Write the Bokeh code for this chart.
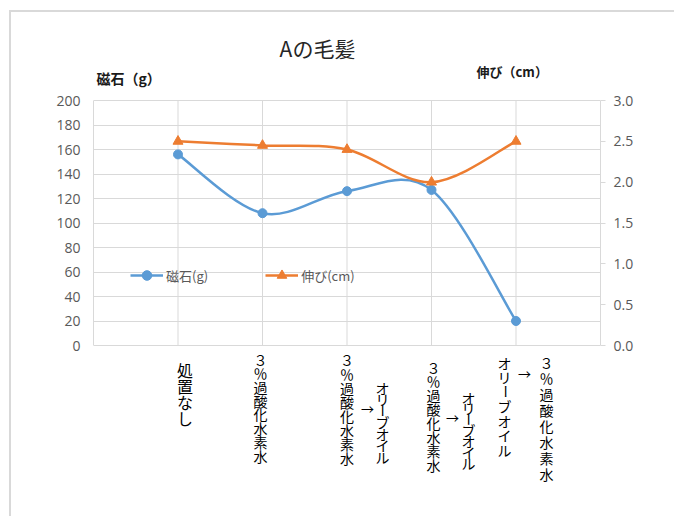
import math
from bokeh.plotting import figure
from bokeh.models import (ColumnDataSource, Range1d, LinearAxis, FixedTicker, Legend,
                          LegendItem, LabelSet, Label, NumeralTickFormatter)
from bokeh.core.properties import value, field
from bokeh.embed import file_html
from bokeh.resources import INLINE

# ---------------- data ----------------
categories = ["処置なし",
              "３％過酸化水素水",
              "３％過酸化水素水→オリーブオイル",
              "３％過酸化水素水→オリーブオイル",
              "オリーブオイル→３％過酸化水素水"]
x_pos = [1, 2, 3, 4, 5]
magnet_g = [156, 108, 126, 127, 20]
stretch_cm = [2.50, 2.45, 2.40, 2.00, 2.50]
left_ticks = [0, 20, 40, 60, 80, 100, 120, 140, 160, 180, 200]
right_ticks = [0.0, 0.5, 1.0, 1.5, 2.0, 2.5, 3.0]
left_bounds = (0, 200)
right_bounds = (0.0, 3.0)
series_names = ["磁石(g)", "伸び(cm)"]
title_text = "Aの毛髪"
left_title = "磁石（g）"
right_title = "伸び（cm）"

# ---------------- style / layout ----------------
BLUE = "#5b9bd5"
ORANGE = "#ed7d31"
GRID = "#d9d9d9"
TICK = "#595959"
JP = "Noto Sans CJK JP"
NUM = "Open Sans"

OX, OY = 11, 12           # canvas origin on the page (after margin + border)
W, H = 665, 506           # canvas size
FL, FR = 93, 600          # plot area left/right (page px)
PT, PB = 100, 345         # plot area top/bottom (page px) for the 0..max values
FT, FBOT = OY, OY + H     # frame spans full canvas height
X0, X1 = 0, 6


def ext_range(lo, hi):
    per_px = (hi - lo) / (PB - PT)
    return Range1d(lo - (FBOT - PB) * per_px, hi + (PT - FT) * per_px)


def px_x(x):
    return FL + (x - X0) / (X1 - X0) * (FR - FL)


def sx(px):
    return px - FL


def sy(py):
    return FBOT - py


def smooth_segments(xs, ys):
    """Bezier segments of a Catmull-Rom style smoothed line through the data."""
    n = len(xs)
    pts = list(zip(xs, ys))

    def pt(i):
        return pts[max(0, min(n - 1, i))]

    d = dict(x0=[], y0=[], x1=[], y1=[], cx0=[], cy0=[], cx1=[], cy1=[])
    for i in range(n - 1):
        p0, p1, p2, p3 = pt(i - 1), pt(i), pt(i + 1), pt(i + 2)
        d["x0"].append(p1[0]); d["y0"].append(p1[1])
        d["x1"].append(p2[0]); d["y1"].append(p2[1])
        d["cx0"].append(p1[0] + (p2[0] - p0[0]) / 6)
        d["cy0"].append(p1[1] + (p2[1] - p0[1]) / 6)
        d["cx1"].append(p2[0] - (p3[0] - p1[0]) / 6)
        d["cy1"].append(p2[1] - (p3[1] - p1[1]) / 6)
    return d


p = figure(width=W, height=H, x_range=Range1d(X0, X1), y_range=ext_range(*left_bounds),
           output_backend="svg", toolbar_location=None, x_axis_location=None,
           min_border_left=FL - OX, min_border_right=OX + W - FR,
           min_border_top=0, min_border_bottom=0,
           margin=(OY - 2, 0, 0, OX - 2))
p.styles = {"border-left": "2px solid #d9d9d9", "border-top": "2px solid #d9d9d9"}
p.extra_y_ranges = {"right": ext_range(*right_bounds)}
p.outline_line_color = None
p.background_fill_color = "white"
p.border_fill_color = "white"
p.xgrid.grid_line_color = None

# left axis
ya = p.yaxis[0]
ya.ticker = FixedTicker(ticks=left_ticks)
ya.bounds = left_bounds
ya.axis_line_color = GRID
ya.major_tick_line_color = None
ya.minor_tick_line_color = None
ya.major_label_text_font = NUM
ya.major_label_text_font_size = "14px"
ya.major_label_text_color = TICK
ya.major_label_standoff = 7
p.ygrid.grid_line_color = GRID

# right axis
ra = LinearAxis(y_range_name="right", ticker=FixedTicker(ticks=right_ticks),
                formatter=NumeralTickFormatter(format="0.0"), bounds=right_bounds)
ra.axis_line_color = GRID
ra.major_tick_line_color = GRID
ra.major_tick_in = 0
ra.major_tick_out = 5
ra.minor_tick_line_color = None
ra.major_label_text_font = NUM
ra.major_label_text_font_size = "14px"
ra.major_label_text_color = TICK
ra.major_label_standoff = 8
p.add_layout(ra, "right")

# vertical category gridlines (plot area only)
p.segment(x0=x_pos, y0=[left_bounds[0]] * len(x_pos), x1=x_pos, y1=[left_bounds[1]] * len(x_pos),
          line_color=GRID, line_width=1)

# series
b1 = p.bezier(source=ColumnDataSource(smooth_segments(x_pos, magnet_g)),
              x0="x0", y0="y0", x1="x1", y1="y1", cx0="cx0", cy0="cy0", cx1="cx1", cy1="cy1",
              line_color=BLUE, line_width=2.5)
s1 = p.scatter(x_pos, magnet_g, marker="circle", size=9, fill_color=BLUE, line_color=BLUE)

b2 = p.bezier(source=ColumnDataSource(smooth_segments(x_pos, stretch_cm)),
              x0="x0", y0="y0", x1="x1", y1="y1", cx0="cx0", cy0="cy0", cx1="cx1", cy1="cy1",
              line_color=ORANGE, line_width=2.5, y_range_name="right")
s2 = p.scatter(x_pos, stretch_cm, marker="triangle", size=10, fill_color=ORANGE,
               line_color=ORANGE, y_range_name="right")

legend = Legend(items=[LegendItem(label=series_names[0], renderers=[b1, s1]),
                       LegendItem(label=series_names[1], renderers=[b2, s2])],
                orientation="horizontal", location=(sx(130), sy(287)), padding=0, margin=0,
                spacing=57, glyph_width=33, glyph_height=24, label_standoff=3,
                label_height=24, background_fill_alpha=0, border_line_alpha=0,
                label_text_font=JP, label_text_font_size="13px", label_text_color=TICK,
                label_text_baseline="middle")
p.add_layout(legend)

# titles
p.add_layout(Label(x=sx(317), y=sy(47), x_units="screen", y_units="screen", text=title_text,
                   text_font=JP, text_font_size="21px", text_color="#262626",
                   text_align="center", text_baseline="middle"))
p.add_layout(Label(x=sx(96), y=sy(77), x_units="screen", y_units="screen", text=left_title,
                   text_font=JP, text_font_size="14px", text_font_style="bold",
                   text_color="#1a1a1a", text_align="left", text_baseline="middle"))
p.add_layout(Label(x=sx(476), y=sy(71), x_units="screen", y_units="screen", text=right_title,
                   text_font=JP, text_font_size="13px", text_font_style="bold",
                   text_color="#1a1a1a", text_align="left", text_baseline="middle"))

# vertical (stacked) category labels: column layout per category
# each column: (center x px, first char center y px, last char center y px, font px)
col_layout = [
    [(184.5, 369, 417, 16)],
    [(260, 359, 455, 14)],
    [(346.5, 359, 457, 14), (382, 387, 456, 14)],
    [(433, 367, 464, 14), (468, 397, 462, 14)],
    [(504, 362, 449, 14), (546, 362, 473, 14)],
]
arrow_layout = [None, None, (367, 408), (452, 417), (524, 373)]

rows = dict(x=[], y=[], xo=[], yo=[], t=[], a=[], fs=[])
for xi, label, cols, arr in zip(x_pos, categories, col_layout, arrow_layout):
    parts = label.split("→")
    for part, (cx, ya0, ya1, fs) in zip(parts, cols):
        n = len(part)
        for k, ch in enumerate(part):
            cy = ya0 + (ya1 - ya0) * (k / (n - 1) if n > 1 else 0)
            rows["x"].append(xi); rows["y"].append(left_bounds[0])
            rows["xo"].append(cx - px_x(xi)); rows["yo"].append(PB - cy)
            rows["t"].append(ch)
            rows["a"].append(math.pi / 2 if ch == "ー" else 0)
            rows["fs"].append(f"{fs}px")
    if arr is not None:
        rows["x"].append(xi); rows["y"].append(left_bounds[0])
        rows["xo"].append(arr[0] - px_x(xi)); rows["yo"].append(PB - arr[1])
        rows["t"].append("→"); rows["a"].append(0); rows["fs"].append("13px")

p.add_layout(LabelSet(source=ColumnDataSource(rows), x="x", y="y", x_offset="xo", y_offset="yo",
                      text="t", angle="a", text_font=value(JP), text_font_size=field("fs"),
                      text_color="#000000", text_align="center", text_baseline="middle"))

open("out.html", "w").write(file_html(p, INLINE))
